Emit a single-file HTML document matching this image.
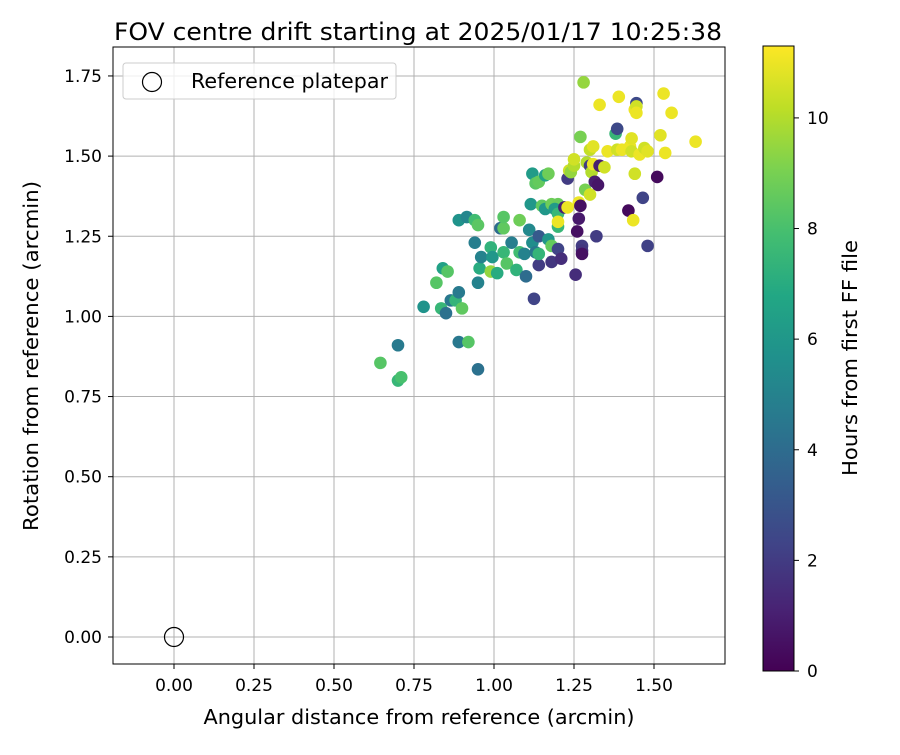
<!DOCTYPE html>
<html><head><meta charset="utf-8"><style>
body{margin:0;background:#fff}
svg text{font-family:"DejaVu Sans","Liberation Sans",sans-serif;fill:#000}
</style></head><body>
<svg id="chart" width="900" height="750" viewBox="0 0 900 750">
<defs><linearGradient id="vir" x1="0" y1="1" x2="0" y2="0"></linearGradient></defs>
<text x="418" y="40" font-size="24" text-anchor="middle" textLength="608" lengthAdjust="spacingAndGlyphs">FOV centre drift starting at 2025/01/17 10:25:38</text>
<g id="grid"></g>
<g id="pts"></g>
<rect x="113" y="47" width="612" height="617" fill="none" stroke="#000" stroke-width="1"/>
<g id="axes"></g>
<text x="419" y="724" font-size="20" text-anchor="middle" textLength="431" lengthAdjust="spacingAndGlyphs">Angular distance from reference (arcmin)</text>
<text transform="translate(38,356) rotate(-90)" font-size="20" text-anchor="middle" textLength="350" lengthAdjust="spacingAndGlyphs">Rotation from reference (arcmin)</text>
<g>
<rect x="123" y="63" width="273" height="36" rx="3" fill="#fff" fill-opacity="0.8" stroke="#ccc"/>
<circle cx="152" cy="82" r="9.5" fill="none" stroke="#000" stroke-width="1.2"/>
<text x="191" y="88" font-size="20" textLength="197" lengthAdjust="spacingAndGlyphs">Reference platepar</text>
</g>
<rect x="763" y="46" width="31" height="625" fill="url(#vir)" stroke="#000" stroke-width="1"/>
<g id="cbax"></g>
<text transform="translate(857,358) rotate(-90)" font-size="20" text-anchor="middle" textLength="236" lengthAdjust="spacingAndGlyphs">Hours from first FF file</text>
</svg>
<script>
const xTicks=[0,0.25,0.5,0.75,1.0,1.25,1.5];
const yTicks=[0,0.25,0.5,0.75,1.0,1.25,1.5,1.75];
const cTicks=[0,2,4,6,8,10];
const refPoint=[0,0];
const xs=[0.645,0.70,0.70,0.71,0.78,0.82,0.835,0.84,0.855,0.85,0.865,0.88,0.89,0.92,0.90,0.89,0.89,0.915,0.94,0.95,0.95,0.94,0.95,0.955,0.96,0.99,0.99,0.995,1.01,1.02,1.03,1.03,1.03,1.04,1.055,1.07,1.08,1.08,1.10,1.095,1.11,1.115,1.12,1.12,1.125,1.13,1.14,1.14,1.14,1.13,1.14,1.15,1.16,1.16,1.17,1.17,1.18,1.18,1.18,1.20,1.19,1.20,1.20,1.20,1.20,1.21,1.22,1.23,1.23,1.235,1.24,1.25,1.25,1.255,1.26,1.265,1.265,1.27,1.27,1.275,1.275,1.275,1.28,1.285,1.29,1.30,1.30,1.30,1.305,1.31,1.31,1.315,1.32,1.325,1.33,1.33,1.345,1.355,1.38,1.385,1.385,1.39,1.40,1.42,1.425,1.43,1.43,1.435,1.44,1.44,1.445,1.445,1.445,1.455,1.465,1.47,1.48,1.48,1.51,1.52,1.53,1.535,1.555,1.63];
const ys=[0.855,0.91,0.80,0.81,1.03,1.105,1.025,1.15,1.14,1.01,1.05,1.05,0.92,0.92,1.025,1.075,1.30,1.31,1.30,1.285,0.835,1.23,1.105,1.15,1.185,1.215,1.14,1.185,1.135,1.275,1.275,1.31,1.20,1.165,1.23,1.145,1.30,1.20,1.125,1.195,1.27,1.35,1.445,1.23,1.055,1.415,1.42,1.25,1.16,1.20,1.195,1.345,1.335,1.44,1.24,1.445,1.35,1.22,1.17,1.35,1.335,1.32,1.28,1.295,1.21,1.18,1.34,1.43,1.34,1.455,1.45,1.47,1.49,1.13,1.265,1.305,1.355,1.345,1.56,1.22,1.205,1.195,1.73,1.395,1.48,1.52,1.38,1.47,1.45,1.475,1.53,1.42,1.25,1.41,1.66,1.47,1.465,1.515,1.57,1.585,1.52,1.685,1.52,1.33,1.53,1.555,1.515,1.30,1.445,1.645,1.665,1.655,1.635,1.505,1.37,1.525,1.515,1.22,1.435,1.565,1.695,1.51,1.635,1.545];
const hours=[8.3,4.6,7.5,8.0,5.8,8.3,7.5,6.5,8.3,4.2,4.5,7.4,4.5,8.3,8.5,4.6,5.8,5.2,7.8,8.4,4.2,4.8,5.0,7.0,5.0,7.3,9.5,6.0,7.0,4.0,8.5,8.3,7.5,8.3,4.8,7.3,8.8,7.8,4.0,5.0,5.3,6.0,6.2,5.5,2.3,8.4,8.6,3.2,2.0,4.5,7.4,8.5,6.0,6.6,6.0,8.8,8.8,8.6,1.8,8.7,6.2,7.5,7.5,11,2.3,1.5,1.0,2.0,11,10.5,9.5,10,10.5,1.5,0.5,0.8,11,0.5,9.0,2.0,1.8,0.5,9.5,9.0,10,10.3,10.5,2.0,10,11,10.8,1.0,2.0,0.7,11,1.0,10.5,11,7.5,2.5,10.5,11,11,0.3,11,10.8,10.5,11,10.5,11,2.5,10.5,11,11,2.3,10.5,10.8,2.2,0.3,10.8,11,11,11,11];
const VIR=[[68,1,84],[72,35,116],[64,67,135],[52,94,141],[41,120,142],[32,144,140],[34,167,132],[68,190,112],[121,209,81],[189,222,38],[253,231,37]];
const CMAX=11.3;
function col(h){let t=Math.max(0,Math.min(1,h/CMAX))*(VIR.length-1);let i=Math.min(VIR.length-2,Math.floor(t)),f=t-i;const a=VIR[i],b=VIR[i+1];return `rgb(${a.map((v,k)=>Math.round(v+(b[k]-v)*f)).join(',')})`;}
const X=v=>174+v*320, Y=v=>637-v*320.6, C=v=>671-v*(625/CMAX);
const NS='http://www.w3.org/2000/svg';
function mk(tag,attrs,parent,txt){const e=document.createElementNS(NS,tag);for(const k in attrs)e.setAttribute(k,attrs[k]);if(txt!==undefined)e.textContent=txt;parent.appendChild(e);return e;}
const grid=document.getElementById('grid'),axes=document.getElementById('axes'),pts=document.getElementById('pts'),cb=document.getElementById('cbax');
xTicks.forEach(v=>{const x=X(v);
const g=mk('line',{x1:x,x2:x,y1:47,y2:664,stroke:'#b0b0b0','stroke-width':1},grid);
const t=mk('line',{x1:x,x2:x,y1:664,y2:669,stroke:'#000'},axes);
const l=mk('text',{x:x,y:691,'font-size':17,'text-anchor':'middle'},axes,v.toFixed(2));});
yTicks.forEach(v=>{const y=Y(v);
const g=mk('line',{x1:113,x2:725,y1:y,y2:y,stroke:'#b0b0b0','stroke-width':1},grid);
const t=mk('line',{x1:108,x2:113,y1:y,y2:y,stroke:'#000'},axes);
const l=mk('text',{x:102,y:y+6,'font-size':17,'text-anchor':'end'},axes,v.toFixed(2));});
xs.forEach((v,i)=>{const c=mk('circle',{cx:X(v),cy:Y(ys[i]),r:6.3,fill:col(hours[i])},pts);

});
const rp=mk('circle',{cx:X(refPoint[0]),cy:Y(refPoint[1]),r:9.5,fill:'none',stroke:'#000','stroke-width':1.2},pts);


const grad=document.getElementById('vir');
VIR.forEach((c,i)=>{const s=mk('stop',{offset:(i/(VIR.length-1)*100)+'%','stop-color':`rgb(${c.join(',')})`},grad);});
cTicks.forEach(v=>{const y=C(v);
const t=mk('line',{x1:794,x2:799,y1:y,y2:y,stroke:'#000'},cb);
const l=mk('text',{x:807,y:y+6,'font-size':17},cb,String(v));});
</script>
</body></html>
